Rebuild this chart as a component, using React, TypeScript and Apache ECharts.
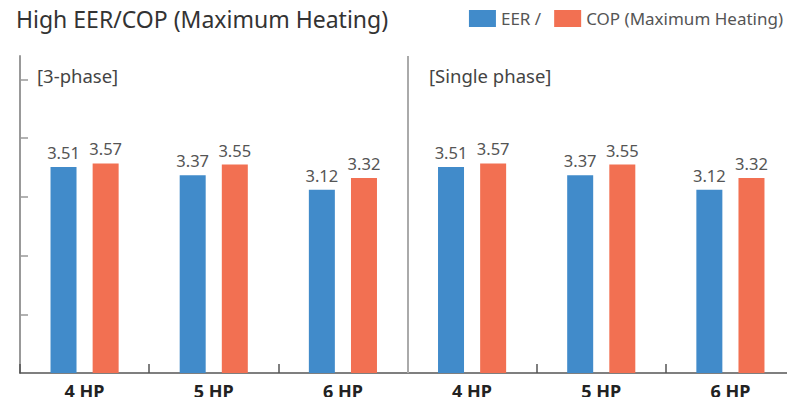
import React, { useEffect, useRef } from "react";
import * as echarts from "echarts";

const categories = ["4 HP", "5 HP", "6 HP", "4 HP", "5 HP", "6 HP"];
const eerValues = [3.51, 3.37, 3.12, 3.51, 3.37, 3.12];
const copValues = [3.57, 3.55, 3.32, 3.57, 3.55, 3.32];
const seriesNames = ["EER /", "COP (Maximum Heating)"];
const panelLabels = ["[3-phase]", "[Single phase]"];
const yTicks = [1, 2, 3, 4, 5];
const dividerAt = 3; // boundary between the two panels (in category units)

const FONT = "'Noto Sans', sans-serif";

export default function App() {
  const ref = useRef<HTMLDivElement>(null);
  useEffect(() => {
    const chart = echarts.init(ref.current!, null, { renderer: "svg" });
    chart.setOption({
      animation: false,
      textStyle: { fontFamily: FONT },
      title: {
        text: "High EER/COP (Maximum Heating)",
        left: 11,
        top: 2,
        textStyle: { fontSize: 23, fontWeight: "normal", color: "#333", fontFamily: FONT },
      },
      legend: {
        right: 7,
        top: 5,
        itemWidth: 27,
        itemHeight: 17,
        itemGap: 13,
        icon: "rect",
        textStyle: { fontSize: 17, color: "#555", fontFamily: FONT },
        data: seriesNames,
      },
      grid: { left: 20, top: 56, width: 782, bottom: 32, containLabel: false },
      xAxis: [
        {
          type: "category",
          data: categories,
          axisLine: { show: true, lineStyle: { color: "#555", width: 1.5 } },
          axisTick: {
            show: true,
            inside: true,
            length: 9,
            interval: 0,
            lineStyle: { color: "#555", width: 1.5 },
          },
          splitLine: { show: false },
          axisLabel: { fontSize: 18, fontWeight: "bold", color: "#222", margin: 9, fontFamily: FONT },
        },
        {
          type: "value",
          min: 0,
          max: categories.length,
          show: false,
          position: "bottom",
        },
      ],
      yAxis: {
        type: "value",
        min: 0,
        max: 5.4,
        interval: 1,
        axisLine: { show: true, lineStyle: { color: "#999", width: 2 } },
        axisTick: {
          show: true,
          inside: true,
          length: 8,
          customValues: yTicks,
          lineStyle: { color: "#999", width: 1.5 },
        },
        axisLabel: { show: false },
        splitLine: { show: false },
      },
      series: [
        {
          name: seriesNames[0],
          type: "bar",
          data: eerValues,
          barWidth: 26,
          barGap: "62%",
          itemStyle: { color: "#418BCA" },
          label: { show: true, position: "top", distance: 6, fontSize: 16.5, color: "#555", fontFamily: FONT },
        },
        {
          name: seriesNames[1],
          type: "bar",
          data: copValues,
          barWidth: 26,
          itemStyle: { color: "#F27052" },
          label: { show: true, position: "top", distance: 6, fontSize: 16.5, color: "#555", fontFamily: FONT },
        },
        {
          name: "divider",
          type: "line",
          xAxisIndex: 1,
          data: [[dividerAt, 0]],
          showSymbol: false,
          symbolSize: 0,
          lineStyle: { opacity: 0 },
          silent: true,
          markLine: {
            silent: true,
            symbol: "none",
            label: { show: false },
            lineStyle: { color: "#aaa", width: 2, type: "solid" },
            data: [{ xAxis: dividerAt }],
          },
        },
      ],
      graphic: [
        {
          type: "text",
          left: 37,
          top: 66,
          style: { text: panelLabels[0], fontSize: 18.5, fill: "#444", fontFamily: FONT },
        },
        {
          type: "text",
          left: 429,
          top: 66,
          style: { text: panelLabels[1], fontSize: 18.5, fill: "#444", fontFamily: FONT },
        },
      ],
    });
    return () => chart.dispose();
  }, []);
  return <div ref={ref} style={{ width: 795, height: 405, margin: -8 }} />;
}
